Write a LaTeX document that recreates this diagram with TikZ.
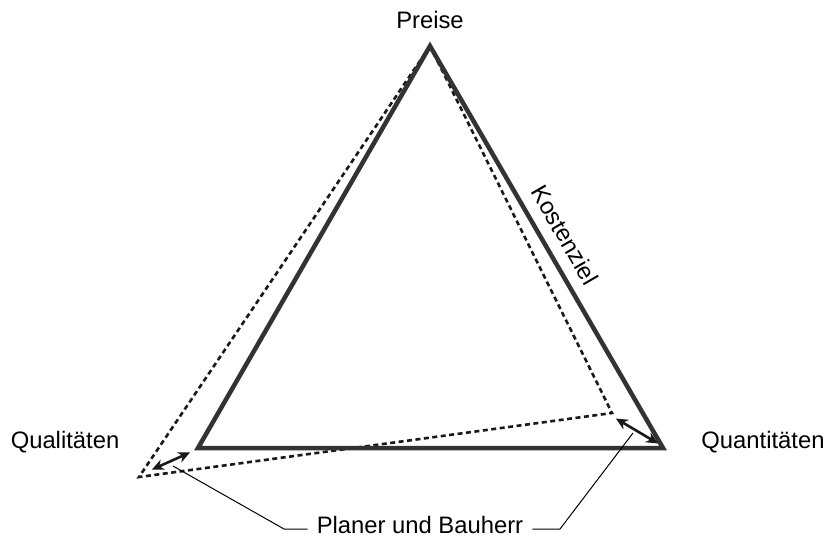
\documentclass[tikz,border=0pt]{standalone}
\usepackage{fontspec}
\setmainfont{Liberation Sans}
\usetikzlibrary{arrows.meta}
\begin{document}
\begin{tikzpicture}[x=1pt,y=-1pt,
  lbl/.style={font=\fontsize{23.8}{27}\selectfont, text=black, inner sep=0pt},
  solidtri/.style={draw=black!80, line width=4.5pt, line join=miter},
  dottri/.style={draw=black!90, line width=2.6pt, dash pattern=on 5pt off 3.5pt},
  dblarrow/.style={draw=black!90, line width=2.6pt, {Stealth[length=12pt,width=11pt]}-{Stealth[length=12pt,width=11pt]}, shorten <=1pt, shorten >=1pt},
  leader/.style={draw=black, line width=1pt}]
\useasboundingbox (0,0) rectangle (827,539);
% vertices
\coordinate (A) at (430,46);
\coordinate (L) at (198,448);
\coordinate (R) at (663,448);
\coordinate (DL) at (139,477);
\coordinate (DR) at (612,413);
% triangles
\draw[dottri] (A) -- (DL) -- (DR) -- cycle;
\draw[solidtri] (A) -- (L) -- (R) -- cycle;
% arrows
\coordinate (a1) at (151,470);
\coordinate (a2) at (191,452);
\coordinate (b1) at (615,418);
\coordinate (b2) at (659,444);
\draw[dblarrow] (a1) -- (a2);
\draw[dblarrow] (b1) -- (b2);
% labels
\node[lbl] (preise) at (430,20) {Preise};
\node[lbl] (qual) at (65,442) {Qualitäten};
\node[lbl] (quant) at (763,442) {Quantitäten};
\node[lbl, rotate=-60] (kosten) at (565,235) {Kostenziel};
\node[lbl] (planer) at (420,525) {Planer und Bauherr};
% leader lines
\coordinate (l1) at (173,466);
\coordinate (l2) at (284,529);
\coordinate (r1) at (633,433);
\coordinate (r2) at (560,529);
\draw[leader] (l1) -- (l2) -- ([xshift=-9pt]planer.west |- l2);
\draw[leader] (r1) -- (r2) -- ([xshift=9pt]planer.east |- r2);
\end{tikzpicture}
\end{document}
